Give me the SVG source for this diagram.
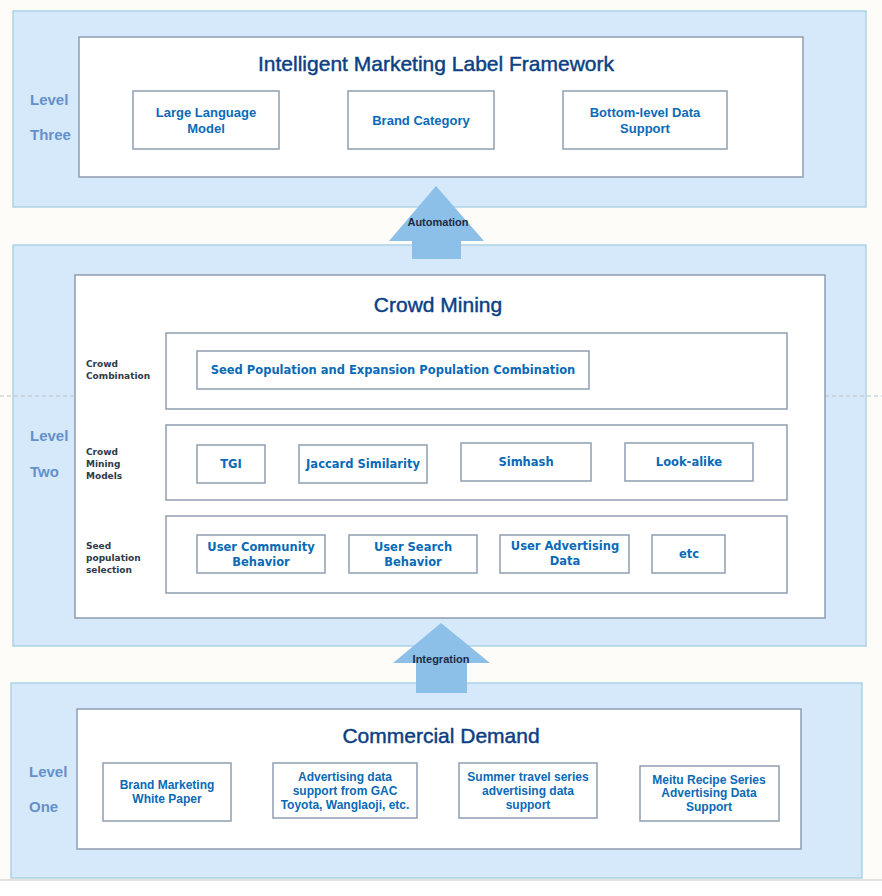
<svg xmlns="http://www.w3.org/2000/svg" width="882" height="896" viewBox="0 0 882 896">
<style>
.panel{fill:#d6e9fb;stroke:#acd2e4;stroke-width:1.5}
.inner{fill:#ffffff;stroke:#8e9db0;stroke-width:1.5}
.box{fill:#ffffff;stroke:#8e9eb1;stroke-width:1.5}
.title{font-family:"Liberation Sans",Arial,sans-serif;font-size:21px;fill:#0c3f84;stroke:#0c3f84;stroke-width:0.45;text-anchor:middle}
.lvl{font-family:"Liberation Sans",Arial,sans-serif;font-size:15px;font-weight:bold;fill:#6590c8}
.bt{font-family:"Liberation Sans",Arial,sans-serif;font-size:13px;font-weight:bold;fill:#0a6ab8;text-anchor:middle}
.bt1{font-family:"Liberation Sans",Arial,sans-serif;font-size:12px;font-weight:bold;fill:#0a6ab8;text-anchor:middle}
.bt2{font-family:"DejaVu Sans",Verdana,sans-serif;font-size:11.5px;font-weight:bold;fill:#0a6ab8;text-anchor:middle}
.sl{font-family:"DejaVu Sans",Verdana,sans-serif;font-size:9px;font-weight:bold;fill:#2f3a48}
.arrow{fill:#8cc0e9}
.at{font-family:"Liberation Sans",Arial,sans-serif;font-size:11px;font-weight:bold;fill:#1c2b40;text-anchor:middle}
.dash{stroke:#b9c3cb;stroke-width:1;stroke-dasharray:4 3;fill:none}
</style>
<rect x="0" y="0" width="882" height="896" fill="#ffffff"/>
<rect x="0" y="0" width="882" height="880" fill="#fdfcf8"/>

<g id="level-three">
<rect class="panel" x="13" y="11" width="853" height="196"/>
<text class="lvl" x="30" y="105">Level</text>
<text class="lvl" x="30" y="140">Three</text>
<rect class="inner" x="79" y="37" width="724" height="140"/>
<text class="title" x="436" y="71">Intelligent Marketing Label Framework</text>
</g>
<g id="large-language-model">
<rect class="box" x="133" y="91" width="146" height="58"/>
<text class="bt" x="206" y="117">Large Language</text>
<text class="bt" x="206" y="133">Model</text>
</g>
<g id="brand-category">
<rect class="box" x="348" y="91" width="146" height="58"/>
<text class="bt" x="421" y="125">Brand Category</text>
</g>
<g id="bottom-level-data">
<rect class="box" x="563" y="91" width="164" height="58"/>
<text class="bt" x="645" y="117">Bottom-level Data</text>
<text class="bt" x="645" y="133">Support</text>
</g>

<g id="level-two">
<rect class="panel" x="13" y="245" width="853" height="401"/>
<line class="dash" x1="0" y1="396" x2="75" y2="396"/>
<line class="dash" x1="825" y1="396" x2="882" y2="396"/>
<text class="lvl" x="30" y="441">Level</text>
<text class="lvl" x="30" y="477">Two</text>
<rect class="inner" x="75" y="275" width="750" height="343"/>
<text class="title" x="438" y="312">Crowd Mining</text>
<rect class="box" x="166" y="333" width="621" height="76"/>
<rect class="box" x="166" y="425" width="621" height="75"/>
<rect class="box" x="166" y="516" width="621" height="77"/>
<text class="sl" x="86" y="367">Crowd</text>
<text class="sl" x="86" y="379">Combination</text>
<text class="sl" x="86" y="455">Crowd</text>
<text class="sl" x="86" y="467">Mining</text>
<text class="sl" x="86" y="479">Models</text>
<text class="sl" x="86" y="549">Seed</text>
<text class="sl" x="86" y="561">population</text>
<text class="sl" x="86" y="573">selection</text>
</g>
<g id="seed-expansion">
<rect class="box" x="197" y="351" width="392" height="38"/>
<text class="bt2" x="393" y="374">Seed Population and Expansion Population Combination</text>
</g>
<g id="tgi">
<rect class="box" x="197" y="445" width="68" height="38"/>
<text class="bt2" x="231" y="468">TGI</text>
</g>
<g id="jaccard">
<rect class="box" x="299" y="445" width="128" height="38"/>
<text class="bt2" x="363" y="468">Jaccard Similarity</text>
</g>
<g id="simhash">
<rect class="box" x="461" y="443" width="130" height="38"/>
<text class="bt2" x="526" y="466">Simhash</text>
</g>
<g id="look-alike">
<rect class="box" x="625" y="443" width="128" height="38"/>
<text class="bt2" x="689" y="466">Look-alike</text>
</g>
<g id="user-community">
<rect class="box" x="197" y="535" width="128" height="38"/>
<text class="bt2" x="261" y="551">User Community</text>
<text class="bt2" x="261" y="566">Behavior</text>
</g>
<g id="user-search">
<rect class="box" x="349" y="535" width="128" height="38"/>
<text class="bt2" x="413" y="551">User Search</text>
<text class="bt2" x="413" y="566">Behavior</text>
</g>
<g id="user-advertising">
<rect class="box" x="500" y="535" width="129" height="38"/>
<text class="bt2" x="565" y="550">User Advertising</text>
<text class="bt2" x="565" y="565">Data</text>
</g>
<g id="etc">
<rect class="box" x="652" y="535" width="73" height="38"/>
<text class="bt2" x="689" y="558">etc</text>
</g>

<g id="level-one">
<rect class="panel" x="11" y="683" width="851" height="195"/>
<text class="lvl" x="29" y="777">Level</text>
<text class="lvl" x="29" y="812">One</text>
<rect class="inner" x="77" y="709" width="724" height="140"/>
<text class="title" x="441" y="743">Commercial Demand</text>
</g>
<g id="brand-marketing">
<rect class="box" x="103" y="763" width="128" height="58"/>
<text class="bt1" x="167" y="789">Brand Marketing</text>
<text class="bt1" x="167" y="803">White Paper</text>
</g>
<g id="advertising-gac">
<rect class="box" x="273" y="763" width="144" height="55"/>
<text class="bt1" x="345" y="781">Advertising data</text>
<text class="bt1" x="345" y="795">support from GAC</text>
<text class="bt1" x="345" y="809">Toyota, Wanglaoji, etc.</text>
</g>
<g id="summer-travel">
<rect class="box" x="459" y="763" width="138" height="55"/>
<text class="bt1" x="528" y="781">Summer travel series</text>
<text class="bt1" x="528" y="795">advertising data</text>
<text class="bt1" x="528" y="809">support</text>
</g>
<g id="meitu-recipe">
<rect class="box" x="640" y="766" width="139" height="55"/>
<text class="bt1" x="709" y="784">Meitu Recipe Series</text>
<text class="bt1" x="709" y="797">Advertising Data</text>
<text class="bt1" x="709" y="811">Support</text>
</g>

<g id="connectors">
<polygon class="arrow" points="436,186 484,241 461,241 461,259 412,259 412,241 389,241"/>
<text class="at" x="438" y="226">Automation</text>
<polygon class="arrow" points="441,623 490,663 467,663 467,693 416,693 416,663 393,663"/>
<text class="at" x="441" y="663">Integration</text>
</g>
<line x1="0" y1="880" x2="882" y2="880" stroke="#c8c8c8" stroke-width="1"/>
</svg>
